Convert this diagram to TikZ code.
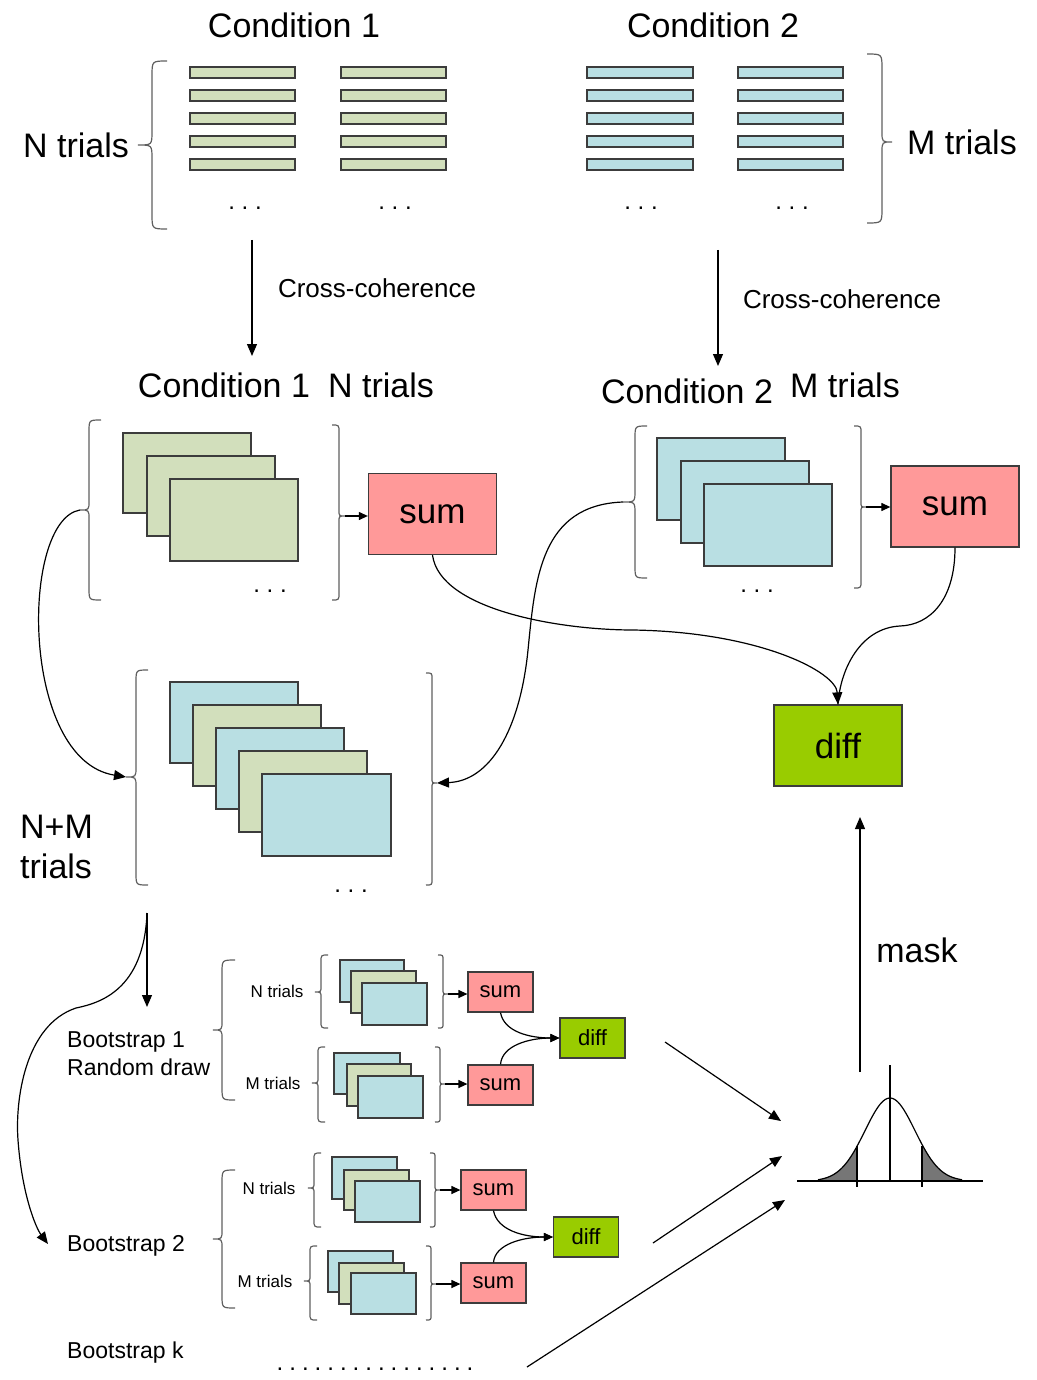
\documentclass[tikz,border=0pt]{standalone}
\usepackage{fontspec}
\setmainfont{Liberation Sans}
\usetikzlibrary{arrows.meta}
\definecolor{cgreen}{RGB}{210,223,188}
\definecolor{cblue}{RGB}{185,223,227}
\definecolor{csum}{RGB}{255,153,153}
\definecolor{cdiff}{RGB}{153,204,0}
\definecolor{cline}{RGB}{60,60,60}
\definecolor{bgray}{RGB}{95,95,95}
\definecolor{ctail}{RGB}{118,118,118}
\tikzset{
  card/.style={draw=cline, line width=1.3pt},
  brc/.style={draw=bgray, line width=1.2pt},
  arr/.style={draw=black, line width=1.2pt, -{Triangle[length=12pt,width=10pt]}},
  sarr/.style={draw=black, line width=1.2pt, -{Triangle[length=9pt,width=8pt]}},
  bigbox/.style={draw=cline, line width=1.3pt, minimum width=128pt, minimum height=81pt, inner sep=0pt, font=\fontsize{35}{40}\selectfont},
  smallbox/.style={draw=cline, line width=1.2pt, minimum width=65pt, minimum height=40pt, inner sep=0pt, font=\fontsize{22}{26}\selectfont},
  bigtxt/.style={inner sep=0pt, font=\fontsize{34}{40}\selectfont},
  cctxt/.style={inner sep=0pt, font=\fontsize{26}{30}\selectfont},
  bstxt/.style={inner sep=0pt, font=\fontsize{23}{28}\selectfont},
  smtxt/.style={inner sep=0pt, font=\fontsize{17}{20}\selectfont},
  dottxt/.style={inner sep=0pt, font=\fontsize{24}{28}\selectfont}
}
% name, spine x, top, mid, bottom, arm width, tip width
\newcommand{\bracel}[7]{%
  \draw[brc] (#2+#6,#3) .. controls (#2,#3) .. (#2,#3+#6) -- (#2,#4-#7)
    .. controls (#2,#4) .. (#2-#7,#4) coordinate (#1)
    .. controls (#2,#4) .. (#2,#4+#7) -- (#2,#5-#6) .. controls (#2,#5) .. (#2+#6,#5);}
\newcommand{\bracer}[7]{%
  \draw[brc] (#2-#6,#3) .. controls (#2,#3) .. (#2,#3+#6) -- (#2,#4-#7)
    .. controls (#2,#4) .. (#2+#7,#4) coordinate (#1)
    .. controls (#2,#4) .. (#2,#4+#7) -- (#2,#5-#6) .. controls (#2,#5) .. (#2-#6,#5);}
\newcommand{\spdots}{.\hspace{0.28em}.\hspace{0.28em}.}
\begin{document}
\begin{tikzpicture}[x=1pt,y=-1pt]
\useasboundingbox (0,0) rectangle (1036,1380);

% ---------- top: raw trials ----------
\node[bigtxt] (c1) at (294,25) {Condition 1};
\node[bigtxt] (c2) at (713,25) {Condition 2};
\foreach \y in {67,90,113,136,159}{
  \filldraw[card, fill=cgreen] (190,\y) rectangle (295,\y+11);
  \filldraw[card, fill=cgreen] (341,\y) rectangle (446,\y+11);
  \filldraw[card, fill=cblue] (587,\y) rectangle (693,\y+11);
  \filldraw[card, fill=cblue] (738,\y) rectangle (843,\y+11);
}
\node[dottxt] (d1) at (245,208) {\spdots};
\node[dottxt] (d2) at (395,208) {\spdots};
\node[dottxt] (d3) at (641,208) {\spdots};
\node[dottxt] (d4) at (792,208) {\spdots};
\bracel{bTL}{152}{61}{145}{229}{15}{14}
\bracer{bTR}{882}{54}{142}{223}{15}{10}
\node[bigtxt] (ntr) at (76,145) {N trials};
\node[bigtxt] (mtr) at (962,142) {M trials};

% ---------- cross-coherence arrows ----------
\coordinate (cc1s) at (252,240);
\coordinate (cc1e) at (252,356);
\coordinate (cc2s) at (718,250);
\coordinate (cc2e) at (718,366);
\draw[arr] (cc1s) -- (cc1e);
\draw[arr] (cc2s) -- (cc2e);
\node[cctxt] (cct1) at (377,288) {Cross-coherence};
\node[cctxt] (cct2) at (842,299) {Cross-coherence};

\node[bigtxt] (c1b) at (224,385) {Condition 1};
\node[bigtxt] (n1b) at (381,385) {N trials};
\node[bigtxt] (c2b) at (687,391) {Condition 2};
\node[bigtxt] (m2b) at (845,385) {M trials};

% ---------- middle groups ----------
\filldraw[card, fill=cgreen] (123,433) rectangle (251,513);
\filldraw[card, fill=cgreen] (147,456) rectangle (275,536);
\filldraw[card, fill=cgreen] (170,479) rectangle (298,561);
\node[dottxt] (d5) at (270,591) {\spdots};
\bracel{bML}{89}{420}{510}{600}{12}{9}
\bracer{bMLR}{339}{425}{516}{600}{7}{6}

\filldraw[card, fill=cblue] (657,438) rectangle (785,520);
\filldraw[card, fill=cblue] (681,461) rectangle (809,543);
\filldraw[card, fill=cblue] (704,484) rectangle (832,566);
\node[dottxt] (d6) at (757,591) {\spdots};
\bracel{bMR}{635}{426}{502}{578}{12}{12}
\bracer{bMRR}{861}{426}{507}{588}{7}{5}

\node[bigbox, fill=csum] (sumA) at (432.5,514) {sum};
\node[bigbox, fill=csum] (sumB) at (955,506.5) {sum};
\node[bigbox, fill=cdiff] (diffA) at (838,745.5) {diff};

\draw[sarr] (bMLR) -- (bMLR -| sumA.west);
\draw[sarr] (bMRR) -- (bMRR -| sumB.west);

\draw[arr] (sumA.south) .. controls (440,610) and (560,630) .. (633,630)
  .. controls (760,632) and (836,672) .. (diffA.north);
\draw[line width=1.2pt] (sumB.south) .. controls (955,600) and (930,625) .. (900,626)
  .. controls (860,628) and (840,670) .. (diffA.north);

% ---------- N+M group ----------
\filldraw[card, fill=cblue]  (170,682) rectangle (298,763);
\filldraw[card, fill=cgreen] (193,705) rectangle (321,786);
\filldraw[card, fill=cblue]  (216,728) rectangle (344,809);
\filldraw[card, fill=cgreen] (239,751) rectangle (367,832);
\filldraw[card, fill=cblue]  (262,774) rectangle (391,856);
\node[dottxt] (d7) at (351,891) {\spdots};
\bracel{bNL}{136}{670}{777}{885}{12}{10}
\bracer{bNR}{432}{673}{783}{885}{6}{5}
\node[bigtxt, anchor=west, align=left] (nm) at (20,847) {N+M\\trials};

\draw[arr] (bML) .. controls (20,520) and (20,760) .. (bNL);
\draw[arr] (bMR) .. controls (540,505) and (535,580) .. (528,650)
  .. controls (520,730) and (490,781) .. (bNR);

% ---------- bootstrap ----------
\coordinate (bsstart) at (147,913);
\coordinate (bsdown) at (147,1007);
\coordinate (bs2pt) at (48,1244);
\draw[arr] (bsstart) -- (bsdown);
\draw[arr] (bsstart) .. controls (144,990) and (100,1003) .. (76,1008)
  .. controls (25,1025) and (15,1100) .. (18,1140)
  .. controls (22,1195) and (36,1228) .. (bs2pt);

\node[bstxt, anchor=west, align=left] (bs1) at (67,1054) {Bootstrap 1\\Random draw};
\node[bstxt, anchor=west] (bs2) at (67,1246) {Bootstrap 2};
\node[bstxt, anchor=west] (bsk) at (67,1353) {Bootstrap k};

% bootstrap 1
\bracel{b1}{222}{960}{1030}{1100}{13}{9}
\node[smtxt] (b1n) at (277,991) {N trials};
\node[smtxt] (b1m) at (273,1083) {M trials};
\bracel{b1nl}{321}{955}{992}{1028}{7}{6}
\bracer{b1nr}{443}{955}{994}{1028}{5}{5}
\bracel{b1ml}{318}{1047}{1083}{1122}{7}{6}
\bracer{b1mr}{440}{1047}{1084}{1122}{5}{5}
\filldraw[card, fill=cblue]  (340,960) rectangle (404,1002);
\filldraw[card, fill=cgreen] (351,971) rectangle (416,1013);
\filldraw[card, fill=cblue]  (362,983) rectangle (427,1025);
\filldraw[card, fill=cblue]  (334,1053) rectangle (400,1094);
\filldraw[card, fill=cgreen] (347,1064) rectangle (411,1106);
\filldraw[card, fill=cblue]  (358,1076) rectangle (423,1118);
\node[smallbox, fill=csum] (s1n) at (500.5,992) {sum};
\node[smallbox, fill=csum] (s1m) at (500.5,1085) {sum};
\node[smallbox, fill=cdiff] (dd1) at (592.5,1038) {diff};
\draw[sarr] (b1nr) -- (b1nr -| s1n.west);
\draw[sarr] (b1mr) -- (b1mr -| s1m.west);
\draw[sarr] (s1n.south) .. controls (504,1032) and (530,1038) .. (dd1.west);
\draw[sarr] (s1m.north) .. controls (502,1045) and (530,1038) .. (dd1.west);

% bootstrap 2
\bracel{b2}{222}{1170}{1239}{1308}{13}{9}
\node[smtxt] (b2n) at (269,1188) {N trials};
\node[smtxt] (b2m) at (265,1281) {M trials};
\bracel{b2nl}{314}{1153}{1188}{1227}{7}{6}
\bracer{b2nr}{435}{1153}{1190}{1227}{5}{5}
\bracel{b2ml}{310}{1246}{1281}{1320}{7}{6}
\bracer{b2mr}{431}{1246}{1284}{1320}{5}{5}
\filldraw[card, fill=cblue]  (332,1157) rectangle (397,1199);
\filldraw[card, fill=cgreen] (344,1170) rectangle (409,1210);
\filldraw[card, fill=cblue]  (355,1181) rectangle (420,1222);
\filldraw[card, fill=cblue]  (328,1251) rectangle (393,1292);
\filldraw[card, fill=cgreen] (339,1263) rectangle (404,1304);
\filldraw[card, fill=cblue]  (351,1273) rectangle (416,1314);
\node[smallbox, fill=csum] (s2n) at (493.5,1190) {sum};
\node[smallbox, fill=csum] (s2m) at (493.5,1283) {sum};
\node[smallbox, fill=cdiff] (dd2) at (586,1237) {diff};
\draw[sarr] (b2nr) -- (b2nr -| s2n.west);
\draw[sarr] (b2mr) -- (b2mr -| s2m.west);
\draw[sarr] (s2n.south) .. controls (497,1230) and (523,1237) .. (dd2.west);
\draw[sarr] (s2m.north) .. controls (495,1244) and (523,1237) .. (dd2.west);

\node[dottxt] (kdots) at (375,1369) {.\hspace{6pt}.\hspace{6pt}.\hspace{6pt}.\hspace{6pt}.\hspace{6pt}.\hspace{6pt}.\hspace{6pt}.\hspace{6pt}.\hspace{6pt}.\hspace{6pt}.\hspace{6pt}.\hspace{6pt}.\hspace{6pt}.\hspace{6pt}.\hspace{6pt}.};

% ---------- distribution ----------
\coordinate (g1s) at (665,1042);
\coordinate (g1e) at (781,1121);
\coordinate (g2s) at (653,1243);
\coordinate (g2e) at (782,1156);
\coordinate (g3s) at (527,1367);
\coordinate (g3e) at (785,1200);
\draw[arr] (g1s) -- (g1e);
\draw[arr] (g2s) -- (g2e);
\draw[arr] (g3s) -- (g3e);

\fill[ctail] (818,1181) -- plot[domain=818:857, samples=30] (\x,{1181-83*exp(-0.5*(((\x-890)/25)^2))}) -- (857,1181) -- cycle;
\fill[ctail] (922,1181) -- plot[domain=922:962, samples=30] (\x,{1181-83*exp(-0.5*(((\x-890)/25)^2))}) -- (962,1181) -- cycle;
\draw[line width=1.2pt] plot[domain=818:962, samples=80] (\x,{1181-83*exp(-0.5*(((\x-890)/25)^2))});
\draw[line width=1.3pt] (797,1181) -- (983,1181);
\draw[line width=1.3pt] (890,1065) -- (890,1181);
\draw[line width=1.3pt] (857,1146) -- (857,1187);
\draw[line width=1.3pt] (922,1146) -- (922,1187);

\coordinate (mk) at (860,1072);
\coordinate (mkend) at (860,817);
\draw[arr] (mk) -- (mkend);
\node[bigtxt] (mask) at (917,950) {mask};
\end{tikzpicture}
\end{document}
